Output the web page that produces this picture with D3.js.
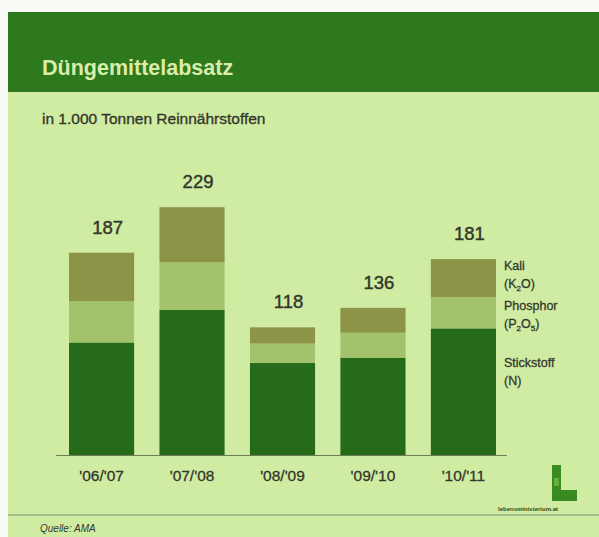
<!DOCTYPE html>
<html>
<head>
<meta charset="utf-8">
<script src="https://cdn.jsdelivr.net/npm/d3@7"></script>
<style>
  html, body { margin: 0; padding: 0; background: #f9fbf6; }
  svg { display: block; }
  text { font-family: "Liberation Sans", Arial, sans-serif; }
</style>
</head>
<body>
<svg id="chart" width="599" height="537"></svg>
<script>
// ---- Data ----
const categories = ["'06/'07", "'07/'08", "'08/'09", "'09/'10", "'10/'11"];
const stickstoff = [104, 134, 85, 90, 117];   // N
const phosphor   = [38, 44, 18, 23, 29];       // P2O5
const kali       = [45, 51, 15, 23, 35];       // K2O
const totals     = [187, 229, 118, 136, 181];
const seriesKeys = ["N", "P", "K"];

// ---- Layout ----
const W = 599, H = 537;
const svg = d3.select("#chart");

const colors = { N: "#266b19", P: "#a2c36b", K: "#8b9447" };
const ink = "#34372b";

// panels
svg.append("rect").attr("x", 8).attr("y", 12).attr("width", W - 8).attr("height", H - 12).attr("fill", "#d0eca3");
svg.append("rect").attr("x", 8).attr("y", 12).attr("width", W - 8).attr("height", 80).attr("fill", "#2e781d");

svg.append("text").attr("x", 42).attr("y", 75)
  .attr("font-size", 21.5).attr("font-weight", "bold").attr("fill", "#d9edaa")
  .text("Düngemittelabsatz");

svg.append("text").attr("x", 42).attr("y", 124)
  .attr("font-size", 15.5).attr("fill", ink).attr("stroke", ink).attr("stroke-width", 0.35)
  .text("in 1.000 Tonnen Reinnährstoffen");

// data table
const table = categories.map((c, i) => ({ cat: c, N: stickstoff[i], P: phosphor[i], K: kali[i], total: totals[i] }));
const stacked = d3.stack().keys(seriesKeys)(table);

const x = d3.scaleBand().domain(categories).range([69, 496]).paddingInner(0.28).paddingOuter(0);
const y = d3.scaleLinear().domain([0, 250]).range([455, 455 - 250 * 1.082]);

// bars
svg.append("g").selectAll("g").data(stacked).join("g")
  .attr("fill", d => colors[d.key])
  .selectAll("rect").data(d => d).join("rect")
  .attr("x", d => x(d.data.cat))
  .attr("width", x.bandwidth())
  .attr("y", d => y(d[1]))
  .attr("height", d => y(d[0]) - y(d[1]));

// baseline axis
const xAxis = d3.axisBottom(x).tickSize(0).tickPadding(14);
const axG = svg.append("g").attr("transform", "translate(0,455.5)").call(xAxis);
axG.select(".domain").remove();
axG.selectAll("text").attr("font-size", 15.5).attr("fill", ink)
  .attr("stroke", ink).attr("stroke-width", 0.3)
  .attr("font-family", "'Liberation Sans', Arial, sans-serif");
svg.append("line").attr("x1", 56).attr("x2", 507).attr("y1", 455.5).attr("y2", 455.5)
  .attr("stroke", "#6f7d55").attr("stroke-width", 1.2);

// totals
svg.append("g").selectAll("text").data(table).join("text")
  .attr("x", d => x(d.cat) + x.bandwidth() / 2 + 6)
  .attr("y", d => y(d.total) - 19)
  .attr("text-anchor", "middle")
  .attr("font-size", 18.5).attr("fill", ink).attr("stroke", ink).attr("stroke-width", 0.45)
  .text(d => d.total);

// legend labels next to last bar
const last = table[table.length - 1];
const lx = x(last.cat) + x.bandwidth() + 8;
const lg = svg.append("g").attr("font-size", 12.5).attr("fill", ink).attr("stroke", ink).attr("stroke-width", 0.3);
function twoLine(yTop, l1, l2parts) {
  lg.append("text").attr("x", lx).attr("y", yTop).text(l1);
  const t = lg.append("text").attr("x", lx).attr("y", yTop + 18);
  l2parts.forEach(p => {
    const ts = t.append("tspan").text(p.t);
    if (p.sub) ts.attr("font-size", 8).attr("dy", 3);
    if (p.up) ts.attr("dy", -3);
  });
}
const kMid = (y(last.N + last.P + last.K) + y(last.N + last.P)) / 2;
const pMid = (y(last.N + last.P) + y(last.N)) / 2;
twoLine(kMid - 8, "Kali", [{ t: "(K" }, { t: "2", sub: true }, { t: "O)", up: true }]);
twoLine(pMid - 3, "Phosphor", [{ t: "(P" }, { t: "2", sub: true }, { t: "O", up: true }, { t: "5", sub: true }, { t: ")", up: true }]);
twoLine(y(last.N) + 39, "Stickstoff", [{ t: "(N)" }]);

// logo
const logo = svg.append("g");
logo.append("rect").attr("x", 552).attr("y", 465).attr("width", 9).attr("height", 36).attr("fill", "#3a8a22");
logo.append("rect").attr("x", 552).attr("y", 490).attr("width", 25).attr("height", 11).attr("fill", "#3a8a22");
logo.append("rect").attr("x", 554).attr("y", 478).attr("width", 5).attr("height", 8).attr("fill", "#6cae3c");
logo.append("text").attr("x", 528).attr("y", 511).attr("text-anchor", "middle")
  .attr("font-size", 6).attr("font-weight", "bold").attr("fill", "#2b4a22")
  .text("lebensministerium.at");

// footer
svg.append("line").attr("x1", 8).attr("x2", W).attr("y1", 515).attr("y2", 515)
  .attr("stroke", "#93ae80").attr("stroke-width", 1.5);
svg.append("text").attr("x", 40).attr("y", 532)
  .attr("font-size", 10).attr("font-style", "italic").attr("fill", ink)
  .text("Quelle: AMA");
</script>
</body>
</html>
